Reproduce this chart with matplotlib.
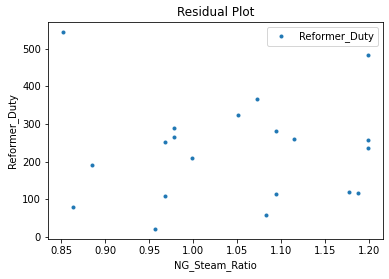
import matplotlib
matplotlib.use('Agg')
import matplotlib.pyplot as plt

ng_steam_ratio = [0.852, 0.863, 0.885, 0.957, 0.968, 0.968, 0.978, 0.978, 0.999, 1.051,
                  1.073, 1.083, 1.094, 1.094, 1.115, 1.178, 1.188, 1.199, 1.199, 1.199]
reformer_duty = [545, 79, 190, 20, 107, 253, 288, 265, 208, 325,
                 367, 57, 113, 280, 259, 118, 115, 483, 258, 237]

fig = plt.figure(figsize=(389 / 72, 279 / 72), dpi=72)
ax = fig.add_axes([48 / 389, 1 - 239 / 279, 335 / 389, 217 / 279])

ax.plot(ng_steam_ratio, reformer_duty, '.', color='#1f77b4', label='Reformer_Duty')
ax.set_title('Residual Plot', fontsize=12)
ax.set_xlabel('NG_Steam_Ratio', fontsize=10)
ax.set_ylabel('Reformer_Duty', fontsize=10)
ax.tick_params(labelsize=10)
ax.legend(loc='upper right', fontsize=10)

fig.savefig('out.png', dpi=72)
